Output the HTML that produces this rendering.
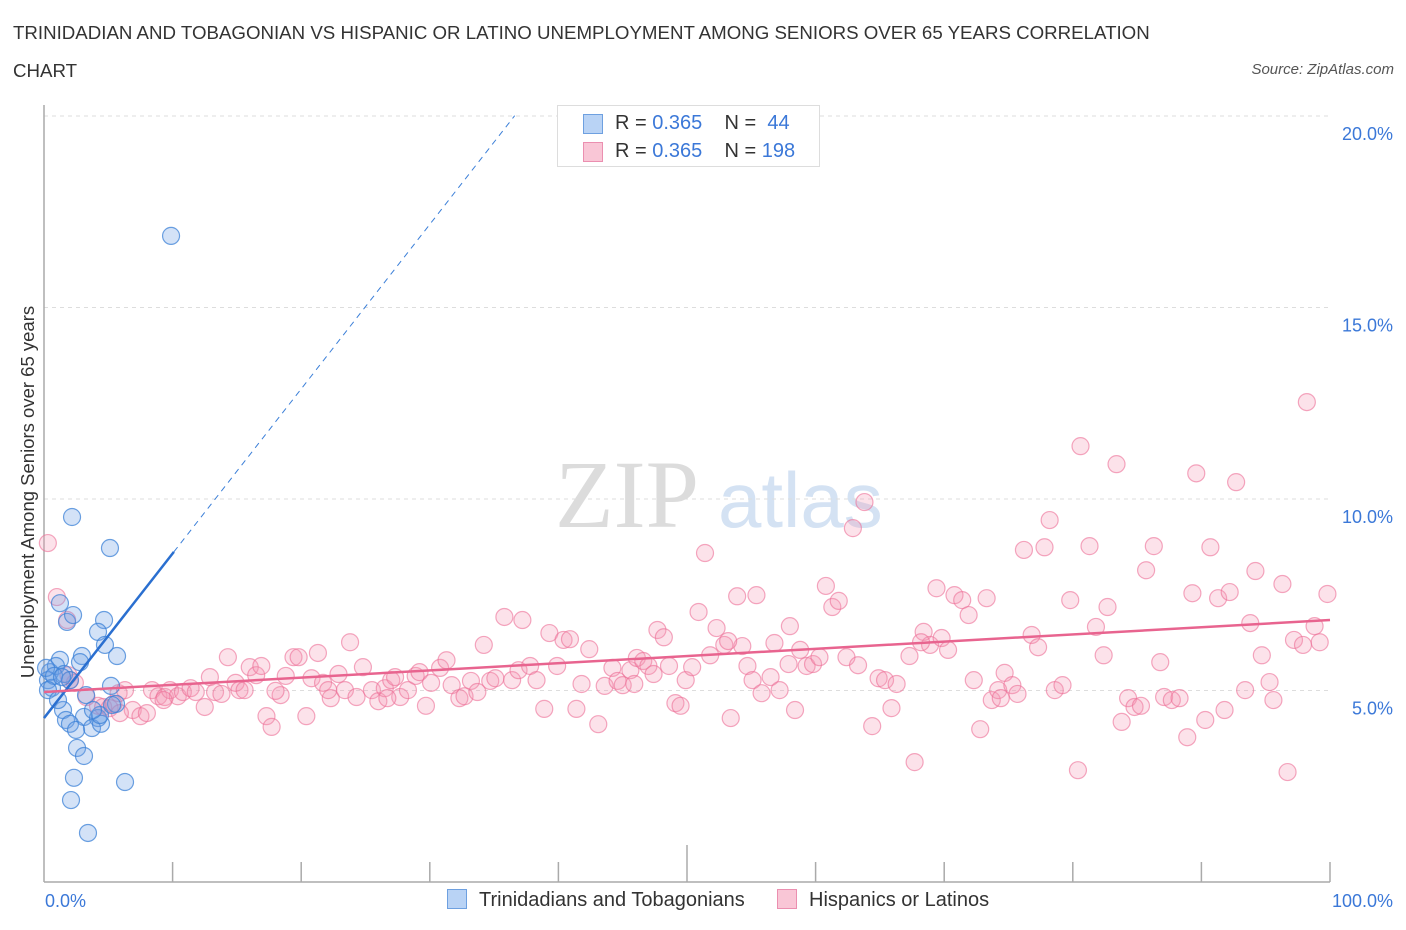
<!DOCTYPE html>
<html><head><meta charset="utf-8">
<style>
body{margin:0;background:#fff;font-family:"Liberation Sans",sans-serif;}
#wrap{position:relative;width:1406px;height:930px;overflow:hidden;}
.t{position:absolute;white-space:nowrap;}
</style></head>
<body>
<div id="wrap">
<div class="t" style="left:13px;top:14px;font-size:18.7px;color:#333;line-height:38px;">TRINIDADIAN AND TOBAGONIAN VS HISPANIC OR LATINO UNEMPLOYMENT AMONG SENIORS OVER 65 YEARS CORRELATION<br>CHART</div>
<div class="t" style="right:12px;top:61px;font-size:15px;color:#555;font-style:italic;">Source: ZipAtlas.com</div>
<svg id="svg" width="1406" height="930" style="position:absolute;left:0;top:0"></svg>
</div>
<script>
const blueX=[9.88,2.18,5.13,1.24,1.79,4.67,2.26,4.20,5.68,2.95,2.80,1.24,0.47,0.93,1.56,0.31,0.62,2.02,5.21,3.27,5.60,1.48,3.11,1.71,4.20,2.02,3.73,4.43,2.49,2.57,3.11,2.33,6.30,2.10,3.42,0.16,0.78,0.31,1.40,1.09,4.35,3.81,5.29,4.74];
const blueY=[16.87,9.53,8.72,7.28,6.79,6.84,6.97,6.53,5.90,5.90,5.74,5.80,5.48,5.64,5.43,5.27,5.07,5.27,5.12,4.88,4.65,4.49,4.31,4.23,4.28,4.13,4.02,4.13,3.97,3.50,3.29,2.72,2.61,2.14,1.28,5.59,5.38,5.01,5.35,4.75,4.36,4.49,4.62,6.19];
const pinkX=[0.3,1.0,1.8,2.0,2.4,1.9,4.2,4.6,5.1,5.4,5.8,6.3,6.9,7.5,8.0,8.4,8.9,9.4,9.8,10.4,10.8,11.4,11.8,12.5,12.9,13.3,13.8,14.3,14.9,15.2,15.6,16.0,16.5,16.9,17.3,17.7,18.4,18.8,19.4,19.8,20.4,20.8,21.3,21.7,22.3,22.9,23.8,23.4,24.3,24.8,25.5,26.0,26.5,27.0,27.3,27.7,28.3,28.9,29.2,29.7,30.1,30.8,31.3,31.7,32.3,32.7,33.2,33.7,34.2,34.7,35.1,35.8,36.4,36.9,37.2,37.8,38.3,38.9,39.3,39.9,40.4,40.9,41.4,41.8,42.4,43.1,43.6,44.2,44.6,45.0,45.6,46.1,46.6,47.0,47.4,47.7,48.2,48.6,49.1,49.5,49.9,50.4,50.9,51.4,51.8,52.3,52.9,53.4,53.9,54.3,54.7,55.1,55.4,55.8,56.5,56.8,57.2,57.9,58.4,58.8,59.3,59.8,60.3,60.8,61.3,61.8,62.4,62.9,63.3,63.8,64.4,64.9,65.4,65.9,66.3,67.3,67.7,68.4,68.9,69.4,69.8,70.3,70.8,71.4,71.9,72.3,72.8,73.3,73.7,74.2,74.7,75.3,75.7,76.2,76.8,77.3,77.8,78.2,78.6,79.2,79.8,80.4,80.6,81.3,81.8,82.4,82.7,83.4,83.8,84.3,84.8,85.7,86.3,86.8,87.1,87.7,88.3,88.9,89.3,89.6,90.3,90.7,91.3,91.8,92.2,92.7,93.4,93.8,94.2,94.7,95.3,95.6,96.3,96.7,97.2,97.9,98.2,98.8,99.2,99.8,85.3,74.4,68.2,58.0,53.2,45.9,26.7,22.1,18.0,9.3,5.9,3.3];
const pinkY=[8.85,7.44,6.84,5.27,5.20,5.40,4.60,4.57,4.54,4.65,4.93,5.01,4.49,4.33,4.41,5.01,4.85,4.83,5.01,4.85,4.96,5.06,4.96,4.57,5.35,4.96,4.91,5.87,5.20,5.01,5.01,5.61,5.40,5.64,4.33,4.05,4.88,5.38,5.87,5.87,4.33,5.32,5.98,5.20,4.80,5.43,6.26,5.01,4.83,5.61,5.01,4.72,5.06,5.27,5.35,4.83,5.01,5.38,5.48,4.60,5.20,5.59,5.79,5.14,4.80,4.85,5.25,4.96,6.19,5.25,5.32,6.92,5.27,5.53,6.84,5.64,5.27,4.52,6.50,5.64,6.32,6.34,4.52,5.17,6.08,4.12,5.12,5.59,5.25,5.14,5.53,5.85,5.77,5.64,5.43,6.58,6.39,5.64,4.67,4.60,5.27,5.61,7.05,8.59,5.92,6.63,6.19,4.28,7.46,6.16,5.64,5.27,7.49,4.93,5.35,6.24,5.01,5.69,4.49,6.06,5.64,5.69,5.87,7.73,7.18,7.34,5.87,9.24,5.66,9.92,4.07,5.32,5.27,4.54,5.17,5.90,3.13,6.53,6.19,7.67,6.37,6.06,7.49,7.36,6.97,5.27,3.99,7.41,4.75,5.01,5.46,5.14,4.91,8.67,6.45,6.13,8.74,9.45,5.01,5.14,7.36,2.92,11.38,8.77,6.66,5.92,7.18,10.91,4.18,4.80,4.57,8.14,8.77,5.74,4.83,4.75,4.80,3.78,7.54,10.67,4.23,8.74,7.41,4.49,7.57,10.44,5.01,6.76,8.12,5.92,5.22,4.75,7.78,2.87,6.32,6.19,12.53,6.68,6.26,7.52,4.60,4.80,6.26,6.68,6.29,5.17,4.80,5.01,4.99,4.75,4.41,4.83];
const yTicks=[5,10,15,20];
const yTickLabels=["5.0%","10.0%","15.0%","20.0%"];
const blueTrend=[4.28,8.62]; // y at x=0 and x=10.1
const pinkTrend=[4.96,6.84]; // y at x=0 and x=100

const NS="http://www.w3.org/2000/svg";
const svg=document.getElementById('svg');
const X0=44,X1=1330,Y0=882,PPY=38.3;
const sx=v=>X0+(X1-X0)*v/100;
const sy=v=>Y0-v*PPY;
function mk(tag,attrs,parent){const e=document.createElementNS(NS,tag);for(const k in attrs)e.setAttribute(k,attrs[k]);(parent||svg).appendChild(e);return e;}

let wm=mk('text',{x:555,y:527,'font-size':96,'font-family':'Liberation Serif, serif',fill:'#dcdcdc'});
wm.textContent='ZIP';


let wm2=mk('text',{x:718,y:527,'font-size':78,'font-family':'Liberation Sans, sans-serif',fill:'#d4e2f3'});
wm2.textContent='atlas';



yTicks.forEach((t,i)=>{
  const g=mk('line',{x1:X0,x2:X1,y1:sy(t),y2:sy(t),stroke:'#dddddd','stroke-dasharray':'4,4'});
  
  
  const l=mk('text',{x:1393,y:sy(t)+24,'text-anchor':'end','font-size':18,fill:'#3b78d8','font-family':'Liberation Sans, sans-serif'});
  l.textContent=yTickLabels[i];
  
  
});
let ax=mk('line',{x1:X0,x2:X0,y1:105,y2:Y0,stroke:'#aaa','stroke-width':1.5});


let bx=mk('line',{x1:X0,x2:X1,y1:Y0,y2:Y0,stroke:'#aaa','stroke-width':1.5});


for(let i=1;i<=10;i++){
  const x=sx(i*10);
  const tk=mk('line',{x1:x,x2:x,y1:i==5?845:862,y2:Y0,stroke:'#aaa','stroke-width':1.5});
  
  
}
function dots(xs,ys,fill,stroke,name){
  xs.forEach((v,i)=>{
    const c=mk('circle',{cx:sx(v),cy:sy(ys[i]),r:8.5,fill:fill,stroke:stroke,'stroke-width':1.2});
    
    
  });
}
dots(pinkX,pinkY,'rgba(244,150,180,0.28)','rgba(236,110,150,0.6)','hispanic-point');
dots(blueX,blueY,'rgba(110,160,230,0.3)','rgba(60,130,215,0.75)','trinidadian-point');
const slopeB=(blueTrend[1]-blueTrend[0])/10.1;
let bd=mk('line',{x1:sx(10.1),y1:sy(blueTrend[1]),x2:sx(36.6),y2:sy(blueTrend[0]+slopeB*36.6),stroke:'#3b7fd8','stroke-width':1,'stroke-dasharray':'6,5'});


let bs=mk('line',{x1:sx(0),y1:sy(blueTrend[0]),x2:sx(10.1),y2:sy(blueTrend[1]),stroke:'#2a6fd0','stroke-width':2.5});


let ps=mk('line',{x1:sx(0),y1:sy(pinkTrend[0]),x2:sx(100),y2:sy(pinkTrend[1]),stroke:'#e8648f','stroke-width':2.5});


</script>
<div class="t" style="left:-172px;top:481px;width:400px;text-align:center;transform:rotate(-90deg);font-size:18.5px;color:#333;">Unemployment Among Seniors over 65 years</div>
<div class="t" style="left:45px;top:891px;font-size:18px;color:#3b78d8;">0.0%</div>
<div class="t" style="right:13px;top:891px;font-size:18px;color:#3b78d8;">100.0%</div>
<div style="position:absolute;left:557px;top:105px;width:263px;height:62px;border:1px solid #ddd;background:#fff;box-sizing:border-box;font-size:20px;">
  <div style="position:absolute;left:25px;top:8px;width:20px;height:20px;background:#b9d3f5;border:1px solid #6ea0e0;box-sizing:border-box;"></div>
  <div class="t" style="left:57px;top:6px;color:#333;">R = <span style="color:#3b78d8">0.365</span>&nbsp;&nbsp;&nbsp; N = &nbsp;<span style="color:#3b78d8">44</span></div>
  <div style="position:absolute;left:25px;top:36px;width:20px;height:20px;background:#f9c6d6;border:1px solid #eb8fb0;box-sizing:border-box;"></div>
  <div class="t" style="left:57px;top:34px;color:#333;">R = <span style="color:#3b78d8">0.365</span>&nbsp;&nbsp;&nbsp; N = <span style="color:#3b78d8">198</span></div>
</div>
<div style="position:absolute;left:447px;top:889px;font-size:20px;color:#333;">
  <div style="position:absolute;left:0;top:0;white-space:nowrap;"><span style="display:inline-block;width:20px;height:20px;background:#b9d3f5;border:1px solid #6ea0e0;box-sizing:border-box;vertical-align:-3px;margin-right:12px;"></span>Trinidadians and Tobagonians</div>
  <div style="position:absolute;left:330px;top:0;white-space:nowrap;"><span style="display:inline-block;width:20px;height:20px;background:#f9c6d6;border:1px solid #eb8fb0;box-sizing:border-box;vertical-align:-3px;margin-right:12px;"></span>Hispanics or Latinos</div>
</div>
</body></html>
